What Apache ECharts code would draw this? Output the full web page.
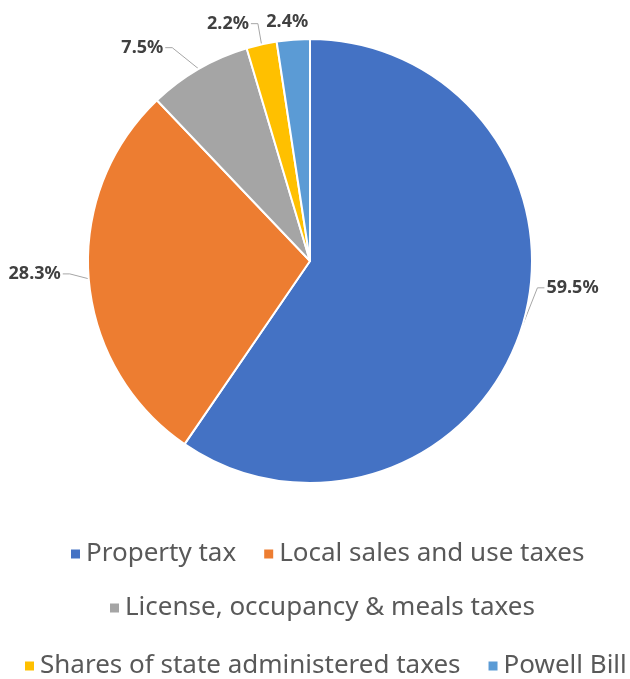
<!DOCTYPE html>
<html><head><meta charset="utf-8">
<script src="https://cdn.jsdelivr.net/npm/echarts@6/dist/echarts.min.js"></script>
<style>html,body{margin:0;padding:0;background:#fff}#c{width:630px;height:679px}</style>
</head><body><div id="c"></div>
<script>
const categories = ['Property tax','Local sales and use taxes','License, occupancy & meals taxes','Shares of state administered taxes','Powell Bill'];
const values = [59.5, 28.3, 7.5, 2.2, 2.4];
const colors = ['#4472C4','#ED7D31','#A5A5A5','#FFC000','#5B9BD5'];
const legendRows = [
  ['Property tax','Local sales and use taxes'],
  ['License, occupancy & meals taxes'],
  ['Shares of state administered taxes','Powell Bill']
];

const legendTops = [541, 595, 653];
const legendCenters = [326, 321, 324];
const labelShift = [[0,-43],[-6,-6],[-6,-18],[44,-22],[27,-4]];

const LEG_FONT = 26, ICON = 11, ICON_GAP = 5, ITEM_GAP = 26;
const ctx = document.createElement('canvas').getContext('2d');
ctx.font = LEG_FONT + 'px "Noto Sans"';
function rowWidth(row){
  let w = 0;
  row.forEach((t,i)=>{ w += ICON + ICON_GAP + ctx.measureText(t).width + (i ? ITEM_GAP : 0); });
  return w;
}

const chart = echarts.init(document.getElementById('c'), null, {renderer:'canvas'});
const legendStyle = {fontFamily:'Noto Sans', fontSize:LEG_FONT, color:'#595959'};
chart.setOption({
  animation:false,
  color: colors,
  legend: legendRows.map((row,i)=>({
    data: row, top: legendTops[i], left: Math.round(legendCenters[i] - rowWidth(row)/2),
    width: 700, icon:'rect',
    itemWidth:ICON, itemHeight:ICON, itemGap:ITEM_GAP, padding:0,
    textStyle: legendStyle, selectedMode:false
  })),
  series:[{
    type:'pie',
    center:[310,261],
    radius:222,
    startAngle:90,
    clockwise:true,
    itemStyle:{borderColor:'#fff', borderWidth:2},
    label:{show:true, position:'outside', formatter:p=>p.value.toFixed(1)+'%',
      fontFamily:'Noto Sans', fontWeight:'bold', fontSize:18, color:'#404040', distanceToLabelLine:3},
    labelLine:{show:true, length:14, length2:8, lineStyle:{color:'#A6A6A6', width:1}},
    labelLayout: p => {
      const [dx, dy] = labelShift[p.dataIndex];
      const r = p.labelRect;
      const nx = r.x + dx, ny = r.y + dy;
      const cy = ny + r.height / 2;
      const res = {x: nx + r.width / 2, y: cy, align:'center', verticalAlign:'middle'};
      const pts = p.labelLinePoints;
      if (pts && pts.length) {
        const s = pts[0];
        let end, mid;
        if (nx > s[0]) { end = [nx - 2, cy]; mid = [end[0] - 7, cy]; }
        else { end = [nx + r.width + 2, cy]; mid = [end[0] + 7, cy]; }
        res.labelLinePoints = [s, mid, end];
      }
      return res;
    },
    data: categories.map((n,i)=>({name:n, value:values[i], labelLine:{show: i !== 4}}))
  }]
});
</script></body></html>
